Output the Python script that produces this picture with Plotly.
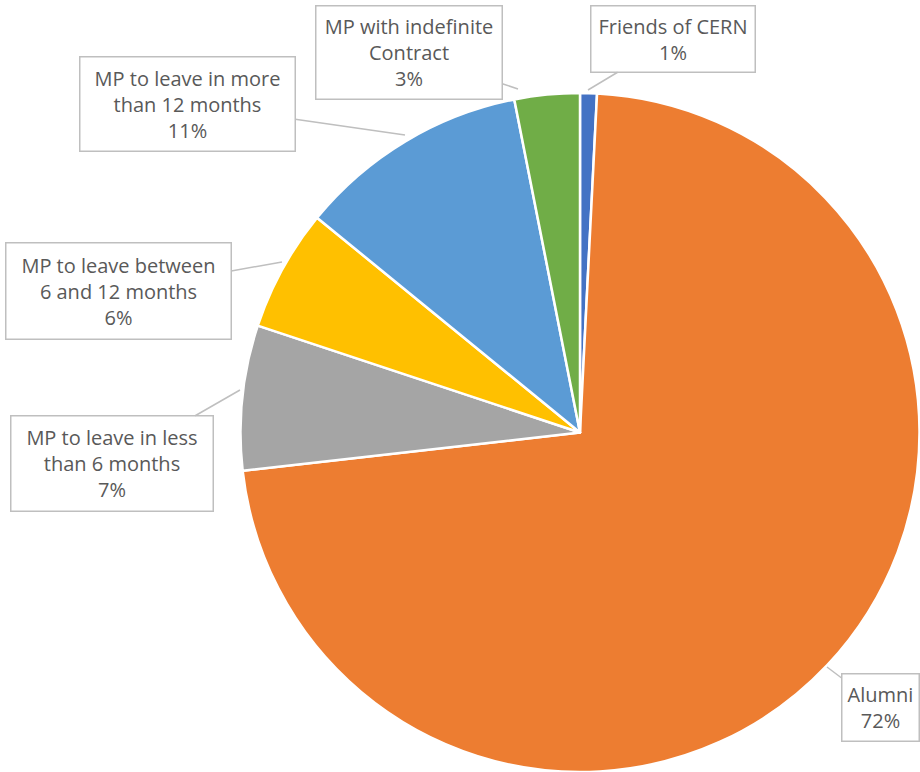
import plotly.graph_objects as go

W, H = 920, 772

labels = ["Friends of CERN", "Alumni", "MP to leave in less than 6 months",
          "MP to leave between 6 and 12 months", "MP to leave in more than 12 months",
          "MP with indefinite Contract"]
label_text = ["Friends of CERN", "Alumni", "MP to leave in less<br>than 6 months",
              "MP to leave between<br>6 and 12 months", "MP to leave in more<br>than 12 months",
              "MP with indefinite<br>Contract"]
values = [0.8, 72.4, 6.9, 5.8, 11.0, 3.1]
colors = ["#4472C4", "#ED7D31", "#A5A5A5", "#FFC000", "#5B9BD5", "#70AD47"]

# label layout (pixels): leader tip, box centre, box size
tips = [(588, 90), (827, 667), (240, 390), (282, 262), (405, 135), (518, 89)]
centers = [(673, 39), (880, 707), (112, 463.5), (118.5, 291), (187.5, 104), (409, 52.5)]
sizes = [(166, 68), (79, 69), (204, 97), (227, 98), (217, 96), (188, 95)]

fig = go.Figure(go.Pie(
    labels=labels, values=values, sort=False, direction="clockwise", rotation=0,
    marker=dict(colors=colors, line=dict(color="white", width=2.5)),
    textinfo="none", hoverinfo="label+percent", showlegend=False,
    domain=dict(x=[240 / W, 1.0], y=[0.0, (H - 93) / H]),
))

total = sum(values)
bw, pad = 1.5, 2
for lt, v, (tx, ty), (cx, cy), (bwid, bhei) in zip(label_text, values, tips, centers, sizes):
    pct = round(v / total * 100)
    fig.add_annotation(
        x=tx / W, y=1 - ty / H, xref="paper", yref="paper",
        ax=cx - tx, ay=cy - ty, axref="pixel", ayref="pixel",
        text=f"{lt}<br>{pct}%", showarrow=True, arrowhead=0, arrowwidth=1.5,
        arrowcolor="#BFBFBF", bordercolor="#BFBFBF", borderwidth=bw, borderpad=pad,
        bgcolor="white", width=bwid - 2 * (pad + bw), height=bhei - 2 * (pad + bw),
        align="center", valign="middle",
        font=dict(family="Open Sans", size=20, color="#595959"),
    )

fig.update_layout(
    width=W, height=H, margin=dict(l=0, r=0, t=0, b=0),
    paper_bgcolor="white", plot_bgcolor="white",
)
fig.write_html("out.html", config={"displayModeBar": False},
               post_script="document.body.style.margin='0';")
